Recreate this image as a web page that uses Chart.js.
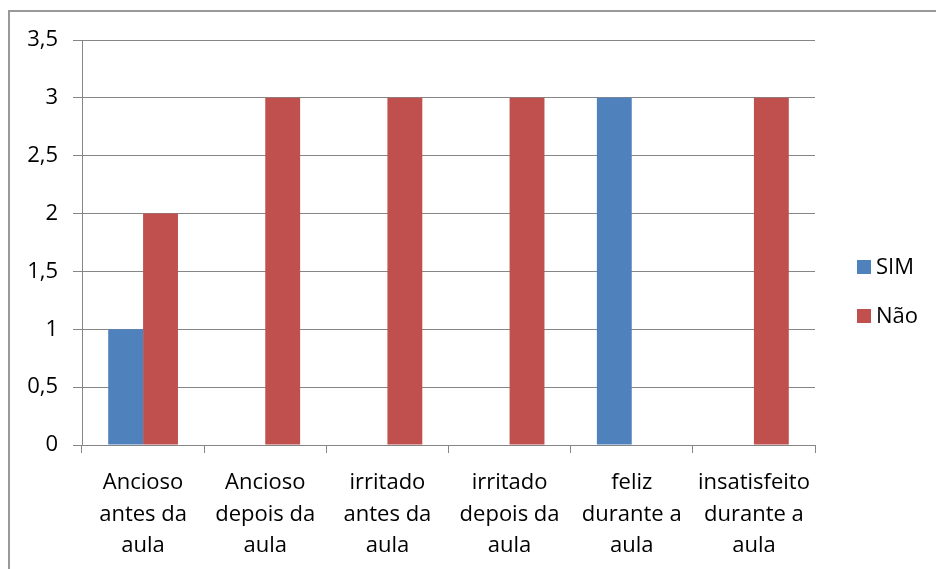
<!DOCTYPE html>
<html>
<head>
<meta charset="utf-8">
<script src="https://cdn.jsdelivr.net/npm/chart.js@4"></script>
<style>
  body { margin: 0; background: #fff; }
  #frame { position: absolute; left: 8px; top: 10px; width: 1000px; height: 1000px; border: 2px solid #999; }
  #wrap { position: absolute; left: 0; top: 0; width: 936px; height: 569px; }
</style>
</head>
<body>
<div id="frame"></div>
<div id="wrap"><canvas id="barChart" width="936" height="569"></canvas></div>
<script>
const categorias = [
  ['Ancioso', 'antes da', 'aula'],
  ['Ancioso', 'depois da', 'aula'],
  ['irritado', 'antes da', 'aula'],
  ['irritado', 'depois da', 'aula'],
  ['feliz', 'durante a', 'aula'],
  ['insatisfeito', 'durante a', 'aula']
];
const sim = [1, 0, 0, 0, 3, 0];
const nao = [2, 3, 3, 3, 0, 3];
const nomes = ['SIM', 'Não'];
const cores = ['#4F81BD', '#C0504D'];

const fonte = { family: "'Open Sans', sans-serif", size: 22 };

// legenda desenhada à mão, igual ao Excel
const legendaExcel = {
  id: 'legendaExcel',
  afterDraw(chart) {
    const ctx = chart.ctx;
    ctx.save();
    ctx.font = "22px 'Open Sans', sans-serif";
    ctx.textBaseline = 'middle';
    const ys = [267, 316];
    nomes.forEach((n, i) => {
      ctx.fillStyle = cores[i];
      ctx.fillRect(857, ys[i] - 7, 14, 14);
      ctx.fillStyle = '#000';
      ctx.fillText(n, 876, ys[i] + 1);
    });
    ctx.restore();
  }
};

const data = {
  labels: categorias,
  datasets: [{
    label: nomes[0],
    data: sim,
    backgroundColor: cores[0],
    borderWidth: 0
  },
  {
    label: nomes[1],
    data: nao,
    backgroundColor: cores[1],
    borderWidth: 0
  }]
};

const config = {
  type: 'bar',
  data,
  options: {
    responsive: false,
    animation: false,
    categoryPercentage: 0.571,
    barPercentage: 1,
    layout: { padding: { left: 0, top: 40, right: 121, bottom: 0 } },
    plugins: {
      legend: { display: false },
      tooltip: { enabled: false }
    },
    scales: {
      x: {
        afterFit(scale) { scale.height = 124; },
        grid: { display: true, drawOnChartArea: false, drawTicks: true, tickLength: 8, color: '#868686', offset: true },
        border: { display: true, color: '#868686' },
        ticks: { font: { ...fonte, lineHeight: 1.44 }, color: '#000', padding: 14, maxRotation: 0, autoSkip: false }
      },
      y: {
        min: 0,
        max: 3.5,
        afterFit(scale) { scale.width = 82; },
        grid: { color: '#868686', tickLength: 9 },
        border: { display: true, color: '#868686' },
        ticks: {
          stepSize: 0.5,
          font: fonte,
          color: '#000',
          padding: 15,
          callback: v => String(v).replace('.', ',')
        }
      }
    }
  },
  plugins: [legendaExcel]
};

const barChart = new Chart(document.getElementById('barChart'), config);
</script>
</body>
</html>
